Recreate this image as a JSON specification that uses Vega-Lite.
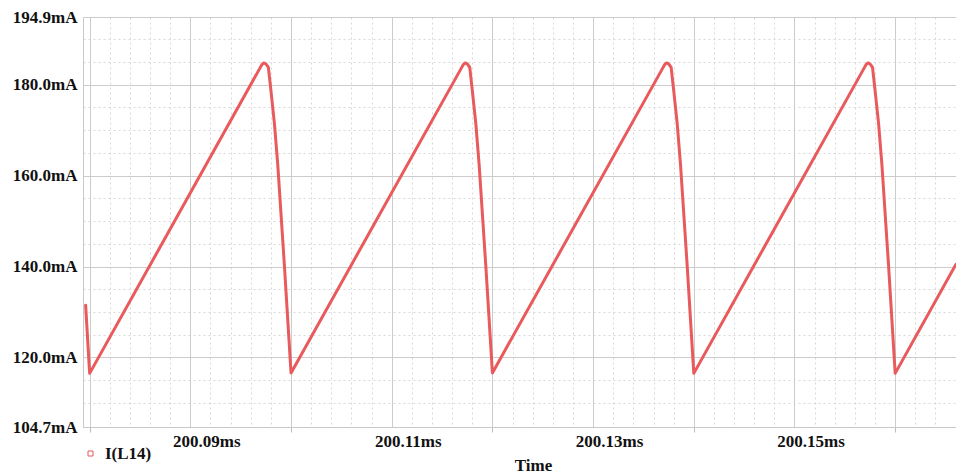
{
  "$schema": "https://vega.github.io/schema/vega-lite/v6.json",
  "width": 873,
  "height": 410,
  "autosize": "none",
  "padding": {"left": 83, "top": 17, "right": 0, "bottom": 47},
  "background": "white",
  "config": {"view": {"stroke": null}, "font": "Liberation Serif"},
  "data": {
    "values": [
      {"t": 200.07960, "I": 131.5, "series": "I(L14)"},
      {"t": 200.08000, "I": 116.5, "series": "I(L14)"},
      {"t": 200.09690, "I": 183.6, "series": "I(L14)"},
      {"t": 200.09710, "I": 184.4, "series": "I(L14)"},
      {"t": 200.09730, "I": 184.8, "series": "I(L14)"},
      {"t": 200.09750, "I": 184.6, "series": "I(L14)"},
      {"t": 200.09775, "I": 183.8, "series": "I(L14)"},
      {"t": 200.09800, "I": 178.8, "series": "I(L14)"},
      {"t": 200.09835, "I": 171.5, "series": "I(L14)"},
      {"t": 200.09868, "I": 162.5, "series": "I(L14)"},
      {"t": 200.09934, "I": 140.3, "series": "I(L14)"},
      {"t": 200.10000, "I": 116.6, "series": "I(L14)"},
      {"t": 200.11690, "I": 183.6, "series": "I(L14)"},
      {"t": 200.11710, "I": 184.4, "series": "I(L14)"},
      {"t": 200.11730, "I": 184.8, "series": "I(L14)"},
      {"t": 200.11750, "I": 184.6, "series": "I(L14)"},
      {"t": 200.11775, "I": 183.8, "series": "I(L14)"},
      {"t": 200.11800, "I": 178.8, "series": "I(L14)"},
      {"t": 200.11835, "I": 171.5, "series": "I(L14)"},
      {"t": 200.11868, "I": 162.5, "series": "I(L14)"},
      {"t": 200.11934, "I": 140.3, "series": "I(L14)"},
      {"t": 200.12000, "I": 116.6, "series": "I(L14)"},
      {"t": 200.13690, "I": 183.6, "series": "I(L14)"},
      {"t": 200.13710, "I": 184.4, "series": "I(L14)"},
      {"t": 200.13730, "I": 184.8, "series": "I(L14)"},
      {"t": 200.13750, "I": 184.6, "series": "I(L14)"},
      {"t": 200.13775, "I": 183.8, "series": "I(L14)"},
      {"t": 200.13800, "I": 178.8, "series": "I(L14)"},
      {"t": 200.13835, "I": 171.5, "series": "I(L14)"},
      {"t": 200.13868, "I": 162.5, "series": "I(L14)"},
      {"t": 200.13934, "I": 140.3, "series": "I(L14)"},
      {"t": 200.14000, "I": 116.5, "series": "I(L14)"},
      {"t": 200.15690, "I": 183.6, "series": "I(L14)"},
      {"t": 200.15710, "I": 184.4, "series": "I(L14)"},
      {"t": 200.15730, "I": 184.8, "series": "I(L14)"},
      {"t": 200.15750, "I": 184.6, "series": "I(L14)"},
      {"t": 200.15775, "I": 183.8, "series": "I(L14)"},
      {"t": 200.15800, "I": 178.8, "series": "I(L14)"},
      {"t": 200.15835, "I": 171.5, "series": "I(L14)"},
      {"t": 200.15868, "I": 162.5, "series": "I(L14)"},
      {"t": 200.15934, "I": 140.3, "series": "I(L14)"},
      {"t": 200.16000, "I": 116.5, "series": "I(L14)"},
      {"t": 200.16604, "I": 140.5, "series": "I(L14)"}
    ]
  },
  "mark": {"type": "line", "strokeWidth": 3, "clip": true, "strokeJoin": "round", "strokeCap": "round"},
  "encoding": {
    "x": {
      "field": "t",
      "type": "quantitative",
      "scale": {"domain": [200.07934, 200.16604], "nice": false, "zero": false},
      "axis": {
        "values": [200.08, 200.082, 200.084, 200.086, 200.088, 200.09, 200.092, 200.094, 200.096, 200.098, 200.10, 200.102, 200.104, 200.106, 200.108, 200.11, 200.112, 200.114, 200.116, 200.118, 200.12, 200.122, 200.124, 200.126, 200.128, 200.13, 200.132, 200.134, 200.136, 200.138, 200.14, 200.142, 200.144, 200.146, 200.148, 200.15, 200.152, 200.154, 200.156, 200.158, 200.16, 200.162, 200.164],
        "title": "Time",
        "titleFont": "Liberation Serif",
        "titleFontWeight": "bold",
        "titleFontSize": 17,
        "titleColor": "#111111",
        "titleX": 450,
        "titleY": 43,
        "titleBaseline": "alphabetic",
        "labelExpr": "abs(datum.value*100 - round(datum.value*100)) < 0.01 && round(datum.value*100) % 2 == 1 ? format(datum.value, '.2f') + 'ms' : ''",
        "labelFont": "Liberation Serif",
        "labelFontSize": 17,
        "labelFontWeight": "bold",
        "labelColor": "#111111",
        "labelOffset": 16,
        "labelPadding": 1,
        "labelOverlap": false,
        "labelFlush": false,
        "labelBound": false,
        "grid": true,
        "gridColor": {"condition": {"test": "abs(datum.value*100 - round(datum.value*100)) < 0.01", "value": "#cccccc"}, "value": "#d8d8d8"},
        "gridDash": {"condition": {"test": "abs(datum.value*100 - round(datum.value*100)) < 0.01", "value": []}, "value": [2, 3]},
        "gridWidth": 1,
        "ticks": true,
        "tickSize": 5,
        "tickColor": "#bbbbbb",
        "tickOpacity": {"condition": {"test": "abs(datum.value*100 - round(datum.value*100)) < 0.01 && round(datum.value*100) % 2 == 0", "value": 1}, "value": 0},
        "domain": true,
        "domainColor": "#c8c8c8"
      }
    },
    "y": {
      "field": "I",
      "type": "quantitative",
      "scale": {"domain": [104.7, 194.9], "nice": false, "zero": false},
      "axis": {
        "values": [104.7, 110, 115, 120, 125, 130, 135, 140, 145, 150, 155, 160, 165, 170, 175, 180, 185, 190, 194.9],
        "title": null,
        "labelExpr": "(datum.value % 20 == 0 || datum.value == 104.7 || datum.value == 194.9) ? format(datum.value, '.1f') + 'mA' : ''",
        "labelFont": "Liberation Serif",
        "labelFontSize": 17,
        "labelFontWeight": "bold",
        "labelColor": "#111111",
        "labelPadding": 6,
        "labelOverlap": false,
        "labelFlush": false,
        "labelBound": false,
        "labelBaseline": "middle",
        "ticks": false,
        "grid": true,
        "gridColor": {"condition": {"test": "datum.value % 20 == 0 || datum.value == 104.7 || datum.value == 194.9", "value": "#cccccc"}, "value": "#d8d8d8"},
        "gridDash": {"condition": {"test": "datum.value % 20 == 0 || datum.value == 104.7 || datum.value == 194.9", "value": []}, "value": [2, 3]},
        "gridWidth": 1,
        "domain": true,
        "domainColor": "#c8c8c8"
      }
    },
    "color": {
      "field": "series",
      "type": "nominal",
      "scale": {"range": ["#e85a5c"]},
      "legend": {
        "orient": "none",
        "legendX": -1,
        "legendY": 428,
        "title": null,
        "padding": 0,
        "symbolType": "square",
        "symbolSize": 25,
        "symbolStrokeColor": "#e85a5c",
        "symbolFillColor": "white",
        "symbolStrokeWidth": 1,
        "labelFont": "Liberation Serif",
        "labelFontSize": 17,
        "labelFontWeight": "bold",
        "labelColor": "#111111",
        "labelOffset": 6
      }
    }
  }
}
